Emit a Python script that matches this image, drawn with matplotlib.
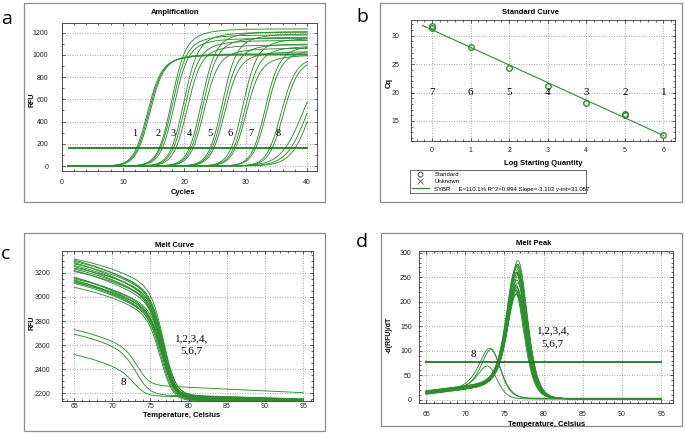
import matplotlib
matplotlib.use('Agg')
import matplotlib.pyplot as plt
import numpy as np
from matplotlib.patches import Rectangle
from matplotlib.lines import Line2D
from matplotlib.ticker import MultipleLocator

plt.rcParams['font.family'] = ['Liberation Sans', 'DejaVu Sans']

W, H = 685, 436
GREEN = '#2b8f2b'
DARK = '#1c7a1c'

####################
# a: amplification (one entry per well)
amp_cq = [12.2, 12.4, 12.6, 15.9, 16.1, 16.4, 17.9, 18.2, 18.6,
          20.8, 21.1, 21.4, 24.2, 24.5, 24.8, 27.6, 28.0, 28.3,
          31.3, 31.6, 33.9, 34.3, 36.4, 37.3, 38.0]
amp_plateau = [1000, 1005, 1010, 1235, 1180, 1150, 1205, 1130, 1090,
               1210, 1160, 1060, 1190, 1100, 1030, 1150, 1080, 1000,
               1090, 1050, 1000, 980, 1000, 1000, 1000]
amp_k = [1.1, 1.1, 1.1, 1.1, 1.1, 1.1, 1.1, 1.1, 1.1,
         1.1, 1.1, 1.1, 1.1, 1.1, 1.1, 1.1, 1.1, 1.1,
         1.1, 1.1, 1.15, 1.15, 1.8, 1.7, 1.6]
amp_threshold = 160
amp_names = ['1', '2', '3', '4', '5', '6', '7', '8']
amp_name_x = [12.0, 15.7, 18.2, 20.8, 24.1, 27.5, 30.8, 35.3]

# b: standard curve
std_log = [0, 0, 1, 2, 3, 4, 5, 5, 6]
std_cq = [31.8, 31.3, 28.1, 24.4, 21.1, 18.1, 16.3, 16.0, 12.5]
fit_slope = -3.102
fit_int = 31.057
fit_range = [-0.25, 6.0]
std_names = ['7', '6', '5', '4', '3', '2', '1']

# c/d: melt curves, samples 1-7
melt_start = [3315, 3305, 3295, 3285, 3275, 3262, 3253, 3240, 3231, 3220,
              3211, 3165, 3158, 3150, 3141, 3134, 3127, 3120, 3113, 3080]
melt_slope = [12, 16, 14, 18, 13, 15, 17, 11, 14, 16,
              12, 18, 15, 13, 17, 14, 16, 12, 15, 13]
melt_tm = [76.8, 76.7, 76.8, 76.6, 76.7, 76.9, 76.7, 76.6, 76.8, 76.7,
           76.5, 76.7, 76.6, 76.8, 76.7, 76.6, 76.5, 76.7, 76.6, 76.4]
melt_post = [2180, 2170, 2165, 2175, 2160, 2185, 2150, 2168, 2155, 2178,
             2145, 2172, 2162, 2152, 2182, 2158, 2148, 2166, 2175, 2140]
# sample 8
melt8_start = [2728, 2690, 2521]
melt8_slope = [14, 14, 14]
melt8_tm = [73.5, 73.4, 73.2]
melt8_w = [0.8, 0.9, 0.8]
melt8_post = [2255, 2180, 2172]
peak_threshold = 77
####################

fig = plt.figure(figsize=(W / 100, H / 100), dpi=100)


def box(x0, y0, x1, y1):
    return [x0 / W, 1 - y1 / H, (x1 - x0) / W, (y1 - y0) / H]


def ftext(x, y, s, **kw):
    fig.text(x / W, 1 - y / H, s, ha=kw.pop('ha', 'center'), va=kw.pop('va', 'center'), **kw)


def frame(x0, y0, x1, y1):
    fig.patches.append(Rectangle((x0 / W, 1 - y1 / H), (x1 - x0) / W, (y1 - y0) / H,
                                 transform=fig.transFigure, fill=False, ec='#8c8c8c', lw=0.9))


def style(ax, xmaj, xmin, ymaj, ymin, xpad, ypad):
    ax.xaxis.set_major_locator(MultipleLocator(xmaj))
    ax.xaxis.set_minor_locator(MultipleLocator(xmin))
    ax.yaxis.set_major_locator(MultipleLocator(ymaj))
    ax.yaxis.set_minor_locator(MultipleLocator(ymin))
    ax.tick_params(which='both', direction='in', top=True, right=True, width=0.5,
                   labelsize=5, colors='#222222')
    ax.tick_params(which='major', length=2.5)
    ax.tick_params(which='minor', length=1.5)
    ax.tick_params(axis='x', pad=xpad)
    ax.tick_params(axis='y', pad=ypad)
    ax.grid(True, which='major', ls=(0, (1, 2)), color='#8a8a8a', lw=0.6)
    ax.set_axisbelow(True)
    for s in ax.spines.values():
        s.set_linewidth(0.6)
        s.set_color('#333333')


def amp_shape(u, k):
    # sigmoid with a slow approach to the plateau
    return 1 / (1 + np.exp(-u / k)) * (1 - 0.2 / (1 + np.exp(u / 3.0)))


### a: amplification
frame(24, 3, 325, 202)
ax = fig.add_axes(box(61.5, 23, 317, 171))
cyc = np.linspace(1, 40, 400)
ugrid = np.linspace(-30, 40, 7001)
for cq, p, k in zip(amp_cq, amp_plateau, amp_k):
    u_th = np.interp(amp_threshold / p, amp_shape(ugrid, k), ugrid)
    m = cq - u_th
    ax.plot(cyc, p * amp_shape(cyc - m, k), color=GREEN, lw=0.65)
ax.plot([1.2, 40], [amp_threshold, amp_threshold], color=DARK, lw=1.3)
for nm, x in zip(amp_names, amp_name_x):
    ax.text(x, 293, nm, ha='center', va='center', fontsize=7.5, family='Liberation Serif')
ax.set_xlim(0, 41.6)
ax.set_ylim(-45, 1288)
style(ax, 10, 2, 200, 100, 5.5, 9.4)
ftext(175, 12.5, 'Amplification', fontsize=5.5, weight='bold')
ftext(32, 100, 'RFU', fontsize=5, weight='bold', rotation=90)
ftext(183, 193, 'Cycles', fontsize=5.5, weight='bold')
ftext(7, 19, 'a', fontsize=14, family='Open Sans')

### b: standard curve
frame(380, 3, 682, 202)
ax = fig.add_axes(box(411, 20, 675, 141))
fx = np.array(fit_range)
ax.plot(fx, fit_slope * fx + fit_int, color=GREEN, lw=0.8)
ax.plot(std_log, std_cq, 'o', mfc='none', mec=GREEN, mew=1.0, ms=4)
for i, nm in enumerate(std_names):
    ax.text(i, 20, nm, ha='center', va='center', fontsize=8, family='Liberation Serif')
ax.set_xlim(-0.545, 6.3)
ax.set_ylim(11.47, 32.77)
style(ax, 1, 0.2, 5, 1, 4.2, 8.4)
ftext(531, 12, 'Standard Curve', fontsize=5.5, weight='bold')
ftext(389, 83, 'Cq', fontsize=5.5, weight='bold', rotation=90)
ftext(543, 163, 'Log Starting Quantity', fontsize=5.5, weight='bold')
ftext(362, 17, 'b', fontsize=14, family='Open Sans')
handles = [Line2D([], [], ls='none', marker='o', mfc='none', mec='#333333', ms=3.5, mew=0.6),
           Line2D([], [], ls='none', marker='x', color='#555555', ms=4, mew=0.6),
           Line2D([], [], color=GREEN, lw=0.9)]
labels = ['Standard', 'Unknown',
          'SYBR     E=110.1% R^2=0.994 Slope=-3.102 y-int=31.057']
leg = fig.legend(handles, labels, loc='upper left',
                 bbox_to_anchor=(410 / W, 1 - 198 / H, 176 / W, 28 / H), mode='expand',
                 fontsize=4.3, frameon=True, fancybox=False, edgecolor='#222222',
                 borderpad=0.3, labelspacing=0.35, handlelength=2.8, handletextpad=1.0,
                 borderaxespad=0)
leg.get_frame().set_linewidth(0.6)

### c: melt curve
T = np.arange(65, 95.001, 0.2)


def melt(start, slope0, tm, w, post, post_slope):
    x = T - 65
    pre = start - slope0 * x - 1.0 * x ** 2
    postv = post - post_slope * (T - 78)
    s = 1 / (1 + np.exp(-(T - tm) / w))
    return pre * (1 - s) + postv * s


curves17 = [melt(a, b, c, 0.8, d, 2.0) for a, b, c, d in
            zip(melt_start, melt_slope, melt_tm, melt_post)]
curves8 = [melt(a, b, c, w, d, 3.0 if d > 2200 else 1.6) for a, b, c, w, d in
           zip(melt8_start, melt8_slope, melt8_tm, melt8_w, melt8_post)]

frame(24, 233, 325, 431)
ax = fig.add_axes(box(62, 251, 313, 401))
for F in curves17 + curves8:
    ax.plot(T, F, color=GREEN, lw=0.65)
ax.text(78.2, 2655, '1,2,3,4,', ha='left', va='center', fontsize=8, family='Liberation Serif')
ax.text(78.9, 2549, '5,6,7', ha='left', va='center', fontsize=8, family='Liberation Serif')
ax.text(71.4, 2290, '8', ha='center', va='center', fontsize=8, family='Liberation Serif')
ax.set_xlim(63.4, 96.3)
ax.set_ylim(2135, 3382)
style(ax, 5, 1, 200, 50, 1.5, 8.4)
ftext(175, 245, 'Melt Curve', fontsize=5.5, weight='bold')
ftext(32, 323, 'RFU', fontsize=5, weight='bold', rotation=90)
ftext(182, 415, 'Temperature, Celsius', fontsize=5.5, weight='bold')
ftext(6, 254, 'c', fontsize=14, family='Open Sans')

### d: melt peak
frame(381, 233, 682, 426)
ax = fig.add_axes(box(419, 251, 673, 403))
for F in curves17 + curves8:
    ax.plot(T, -np.gradient(F, T), color=GREEN, lw=0.65)
ax.plot([65, 95], [peak_threshold, peak_threshold], color=DARK, lw=1.3)
ax.text(79.1, 140, '1,2,3,4,', ha='left', va='center', fontsize=8, family='Liberation Serif')
ax.text(79.7, 114, '5,6,7', ha='left', va='center', fontsize=8, family='Liberation Serif')
ax.text(71.0, 92, '8', ha='center', va='center', fontsize=8, family='Liberation Serif')
ax.set_xlim(64.1, 96.5)
ax.set_ylim(-6.7, 303.5)
style(ax, 5, 1, 50, 10, 6, 5.3)
ftext(534, 243, 'Melt Peak', fontsize=5.5, weight='bold')
ftext(389, 335, '-d(RFU)/dT', fontsize=5, weight='bold', rotation=90)
ftext(547, 424, 'Temperature, Celsius', fontsize=5.5, weight='bold')
ftext(362, 242, 'd', fontsize=14, family='Open Sans')

fig.savefig('out.png', dpi=100)
